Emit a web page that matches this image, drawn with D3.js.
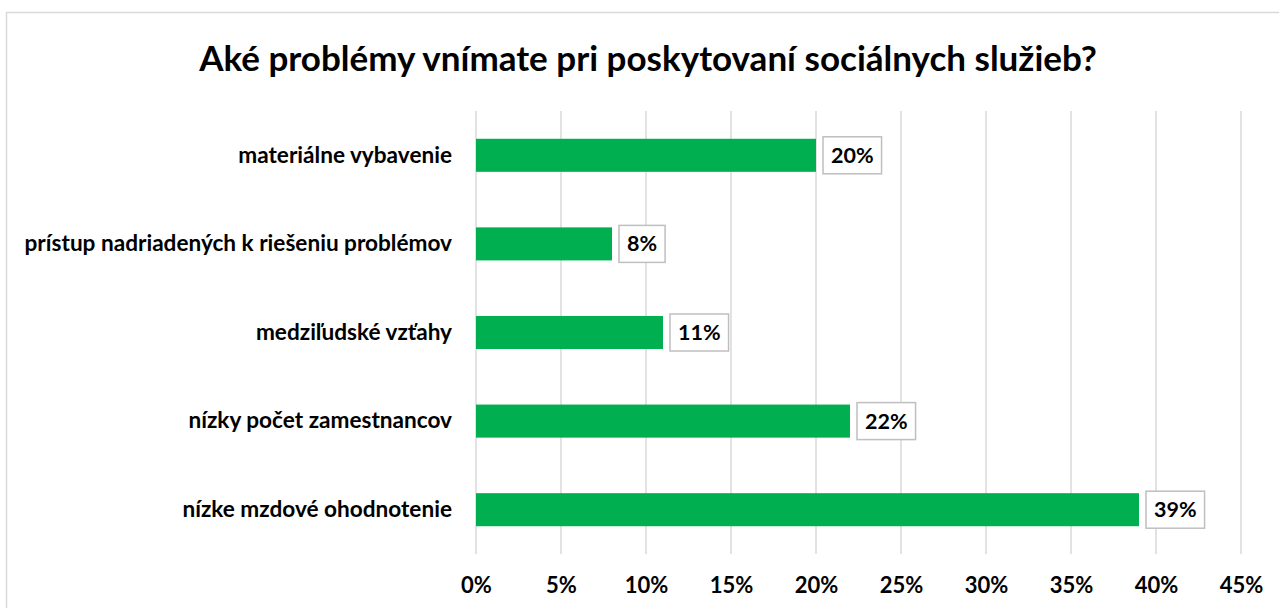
<!DOCTYPE html>
<html>
<head>
<meta charset="utf-8">
<script src="https://cdn.jsdelivr.net/npm/d3@7"></script>
<style>
  html, body { margin: 0; padding: 0; background: #fff; }
  svg { display: block; }
  text { font-family: Lato, "Open Sans", sans-serif; font-weight: 700; fill: #000; }
</style>
</head>
<body>
<svg id="chart" width="1279" height="608"></svg>
<script>
// Survey answers, top to bottom
const categories = [
  "materiálne vybavenie",
  "prístup nadriadených k riešeniu problémov",
  "medziľudské vzťahy",
  "nízky počet zamestnancov",
  "nízke mzdové ohodnotenie"
];
const shares = [0.20, 0.08, 0.11, 0.22, 0.39];
const tickValues = [0, 0.05, 0.10, 0.15, 0.20, 0.25, 0.30, 0.35, 0.40, 0.45];
const titleText = "Aké problémy vnímate pri poskytovaní sociálnych služieb?";

const svg = d3.select("#chart");
const W = 1279, H = 608;
const plot = { left: 476, right: 1241, top: 111, bottom: 554 };

// chart frame
svg.append("rect")
  .attr("x", 6.5).attr("y", 12.5)
  .attr("width", W + 10).attr("height", H + 10)
  .attr("fill", "#fff").attr("stroke", "#d9d9d9").attr("stroke-width", 1.5);

svg.append("text")
  .attr("x", 648).attr("y", 71)
  .attr("text-anchor", "middle")
  .style("font-size", "35px")
  .text(titleText);

const x = d3.scaleLinear().domain([0, 0.45]).range([plot.left, plot.right]);
const y = d3.scaleBand().domain(categories)
  .range([plot.top, plot.bottom])
  .paddingInner(0.627).paddingOuter(0.3135);

// vertical gridlines
svg.append("g")
  .selectAll("line")
  .data(tickValues)
  .join("line")
  .attr("x1", d => x(d)).attr("x2", d => x(d))
  .attr("y1", plot.top).attr("y2", plot.bottom)
  .attr("stroke", "#d9d9d9").attr("stroke-width", 1.5);

// x axis labels
const xAxis = d3.axisBottom(x)
  .tickValues(tickValues)
  .tickFormat(d3.format(".0%"))
  .tickSize(0).tickPadding(0);
const gx = svg.append("g")
  .attr("transform", `translate(0,${plot.bottom})`)
  .call(xAxis);
gx.select(".domain").remove();
gx.selectAll("text")
  .attr("y", 31).attr("dy", "0.35em")
  .style("font-size", "22px").style("font-family", null);

// category labels
const yAxis = d3.axisLeft(y).tickSize(0).tickPadding(0);
const gy = svg.append("g")
  .attr("transform", `translate(${plot.left - 24},0)`)
  .call(yAxis);
gy.select(".domain").remove();
gy.selectAll("text")
  .style("font-size", "22.6px").style("font-family", null);

// bars
svg.append("g")
  .selectAll("rect")
  .data(shares)
  .join("rect")
  .attr("x", x(0))
  .attr("y", (d, i) => y(categories[i]))
  .attr("width", d => x(d) - x(0))
  .attr("height", y.bandwidth())
  .attr("fill", "#00b050");

// value labels in outlined boxes
const fmt = d3.format(".0%");
const labels = svg.append("g")
  .selectAll("g")
  .data(shares)
  .join("g")
  .attr("transform", (d, i) => `translate(${x(d) + 7},${y(categories[i]) + y.bandwidth() / 2})`);

labels.each(function(d) {
  const g = d3.select(this);
  const rect = g.append("rect");
  const t = g.append("text")
    .attr("x", 8).attr("dy", "0.35em")
    .style("font-size", "21.5px")
    .text(fmt(d));
  const w = t.node().getComputedTextLength() + 16;
  rect.attr("x", 0).attr("y", -18.5)
    .attr("width", w).attr("height", 37)
    .attr("fill", "#fff").attr("stroke", "#bfbfbf").attr("stroke-width", 1.5);
});
</script>
</body>
</html>
